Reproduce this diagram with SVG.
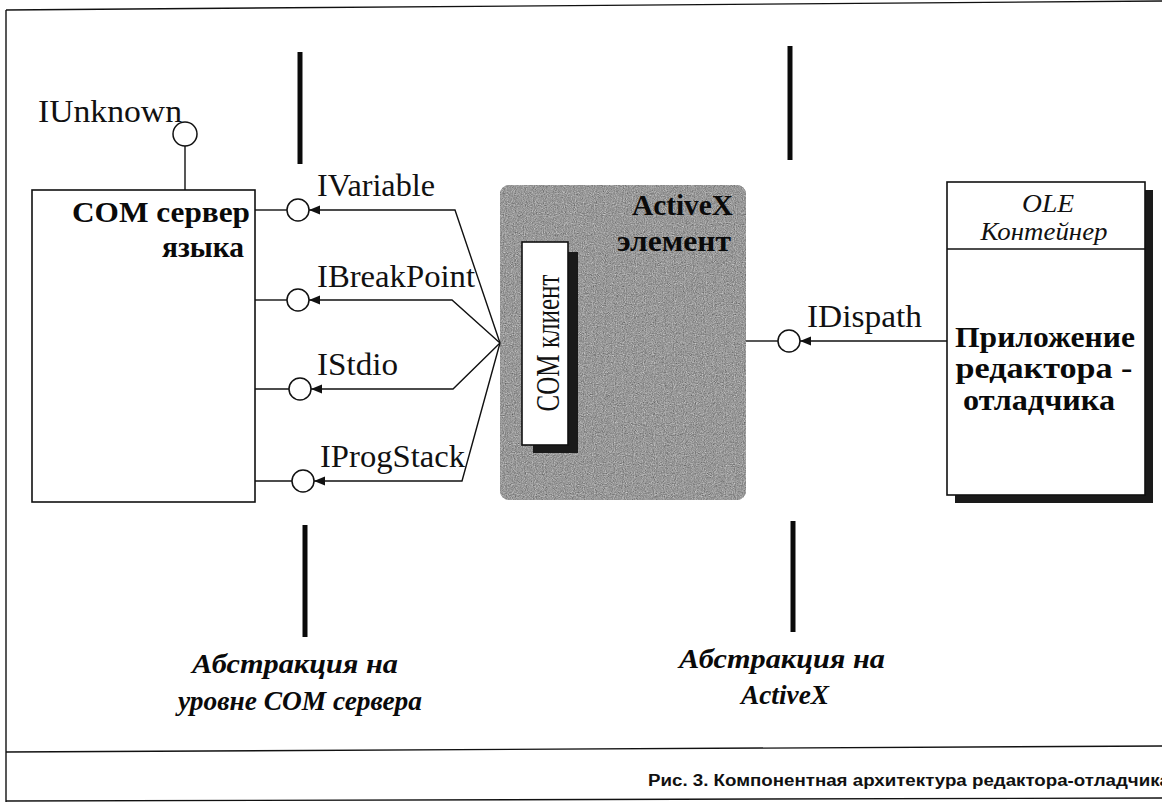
<svg xmlns="http://www.w3.org/2000/svg" width="1162" height="802" viewBox="0 0 1162 802" font-family="Liberation Serif, Times New Roman, serif">
<style>
.ln{fill:none;stroke:#111;stroke-width:1.4}
.box{fill:#fff;stroke:#111;stroke-width:1.6}
.ball{fill:#fff;stroke:#111;stroke-width:1.5}
.bar{stroke:#0a0a0a;stroke-width:5;stroke-linecap:butt}
.if{font-size:32px;fill:#111}
.bold{font-size:30px;font-weight:bold;fill:#0a0a0a}
.ital{font-style:italic;fill:#111}
.abs{font-style:italic;font-weight:bold;font-size:28px;fill:#0a0a0a}
.cap{font-weight:bold;font-size:16px;fill:#111}
</style>
<defs>
<marker id="arr" markerUnits="userSpaceOnUse" markerWidth="12" markerHeight="10" refX="11" refY="4.5" orient="auto">
<path d="M0,0 L11,4.5 L0,9 z" fill="#111"/>
</marker>
<filter id="grain" x="0" y="0" width="1" height="1" filterUnits="objectBoundingBox" color-interpolation-filters="sRGB">
<feTurbulence type="fractalNoise" baseFrequency="0.9" numOctaves="2" seed="3" result="n"/>
<feColorMatrix in="n" type="matrix" values="0.33 0.33 0.33 0 0  0.33 0.33 0.33 0 0  0.33 0.33 0.33 0 0  0 0 0 0 1" result="g"/>
<feComponentTransfer in="g" result="t">
<feFuncR type="linear" slope="0.8" intercept="0.2"/>
<feFuncG type="linear" slope="0.8" intercept="0.2"/>
<feFuncB type="linear" slope="0.8" intercept="0.2"/>
</feComponentTransfer>
<feComposite in="t" in2="SourceAlpha" operator="in"/>
</filter>
</defs>
<rect width="1162" height="802" fill="#fff"/>

<g id="frame">
<line x1="6" y1="10" x2="1162" y2="1" class="ln" stroke-width="1.6"/>
<line x1="6" y1="10" x2="6" y2="802" class="ln" stroke-width="1.6"/>
<line x1="6" y1="752" x2="1162" y2="746" class="ln" stroke-width="2"/>
<line x1="6" y1="801" x2="1162" y2="798" class="ln" stroke-width="2"/>
</g>

<g id="bars">
<line x1="300" y1="52" x2="300" y2="164" class="bar"/>
<line x1="790" y1="46" x2="790" y2="160" class="bar"/>
<line x1="305" y1="525" x2="305" y2="637" class="bar"/>
<line x1="793" y1="521" x2="793" y2="632" class="bar"/>
</g>

<g id="com-server">
<rect x="32" y="190" width="223" height="312" class="box"/>
<text x="250" y="222" class="bold" text-anchor="end" textLength="178" lengthAdjust="spacingAndGlyphs">COM сервер</text>
<text x="244" y="257" class="bold" text-anchor="end" textLength="82" lengthAdjust="spacingAndGlyphs">языка</text>
</g>

<g id="iunknown">
<line x1="185" y1="146" x2="185" y2="190" class="ln"/>
<circle cx="185" cy="134" r="12" class="ball"/>
<text x="38" y="122" class="if" textLength="144" lengthAdjust="spacingAndGlyphs">IUnknown</text>
</g>

<g id="ivariable">
<line x1="255" y1="210" x2="287" y2="210" class="ln"/>
<circle cx="298" cy="210" r="11" class="ball"/>
<text x="317" y="196" class="if" textLength="118" lengthAdjust="spacingAndGlyphs">IVariable</text>
</g>
<g id="ibreakpoint">
<line x1="255" y1="300" x2="287" y2="300" class="ln"/>
<circle cx="298" cy="300" r="11" class="ball"/>
<text x="317" y="287" class="if" textLength="158" lengthAdjust="spacingAndGlyphs">IBreakPoint</text>
</g>
<g id="istdio">
<line x1="255" y1="389" x2="289" y2="389" class="ln"/>
<circle cx="300" cy="389" r="11" class="ball"/>
<text x="317" y="375" class="if" textLength="81" lengthAdjust="spacingAndGlyphs">IStdio</text>
</g>
<g id="iprogstack">
<line x1="255" y1="481" x2="292" y2="481" class="ln"/>
<circle cx="303" cy="481" r="11" class="ball"/>
<text x="320" y="467" class="if" textLength="145" lengthAdjust="spacingAndGlyphs">IProgStack</text>
</g>

<g id="activex">
<rect x="500" y="185" width="246" height="315" rx="9" fill="#9a9a9a"/>
<rect x="500" y="185" width="246" height="315" rx="9" fill="#9a9a9a" filter="url(#grain)"/>
<text x="733" y="215" class="bold" text-anchor="end" textLength="101" lengthAdjust="spacingAndGlyphs">ActiveX</text>
<text x="731" y="251" class="bold" text-anchor="end" textLength="114" lengthAdjust="spacingAndGlyphs">элемент</text>
</g>

<g id="com-client">
<rect x="533" y="252" width="45" height="201" fill="#1a1a1a"/>
<rect x="522" y="242" width="46" height="203" class="box"/>
<text transform="translate(559,343) rotate(-90)" x="0" y="0" text-anchor="middle" font-size="34" fill="#111" textLength="137" lengthAdjust="spacingAndGlyphs">COM клиент</text>
</g>

<g id="idispath">
<line x1="746" y1="341" x2="778" y2="341" class="ln"/>
<circle cx="789" cy="341" r="11" class="ball"/>
<text x="807" y="327" class="if" textLength="115" lengthAdjust="spacingAndGlyphs">IDispath</text>
</g>

<g id="ole-container">
<rect x="955" y="190" width="198" height="313" fill="#1a1a1a"/>
<rect x="947" y="182" width="198" height="313" class="box"/>
<line x1="947" y1="249" x2="1145" y2="249" class="ln" stroke-width="1.6"/>
<text x="1048" y="212" class="ital" font-size="26" text-anchor="middle" textLength="52" lengthAdjust="spacingAndGlyphs">OLE</text>
<text x="1044" y="240" class="ital" font-size="25" text-anchor="middle" textLength="127" lengthAdjust="spacingAndGlyphs">Контейнер</text>
<text x="1045" y="347" class="bold" font-size="29" text-anchor="middle" textLength="180" lengthAdjust="spacingAndGlyphs">Приложение</text>
<text x="1044" y="378" class="bold" font-size="29" text-anchor="middle" textLength="177" lengthAdjust="spacingAndGlyphs">редактора -</text>
<text x="1039" y="410" class="bold" font-size="29" text-anchor="middle" textLength="152" lengthAdjust="spacingAndGlyphs">отладчика</text>
</g>

<g id="connectors">
<path d="M500,343 L455,210 L309,210" class="ln" marker-end="url(#arr)"/>
<path d="M500,343 L452,300 L309,300" class="ln" marker-end="url(#arr)"/>
<path d="M500,343 L453,389 L311,389" class="ln" marker-end="url(#arr)"/>
<path d="M500,343 L462,481 L314,481" class="ln" marker-end="url(#arr)"/>
<path d="M947,341 L800,341" class="ln" marker-end="url(#arr)"/>
</g>

<g id="labels">
<text x="295" y="673" class="abs" text-anchor="middle" textLength="206" lengthAdjust="spacingAndGlyphs">Абстракция на</text>
<text x="300" y="710" class="abs" text-anchor="middle" textLength="244" lengthAdjust="spacingAndGlyphs">уровне COM сервера</text>
<text x="782" y="668" class="abs" text-anchor="middle" textLength="206" lengthAdjust="spacingAndGlyphs">Абстракция на</text>
<text x="785" y="704" class="abs" text-anchor="middle" textLength="88" lengthAdjust="spacingAndGlyphs">ActiveX</text>
<text x="648" y="786" class="cap" font-family="Liberation Sans, Arial, sans-serif" textLength="522" lengthAdjust="spacingAndGlyphs">Рис. 3. Компонентная архитектура редактора-отладчика</text>
</g>
</svg>
